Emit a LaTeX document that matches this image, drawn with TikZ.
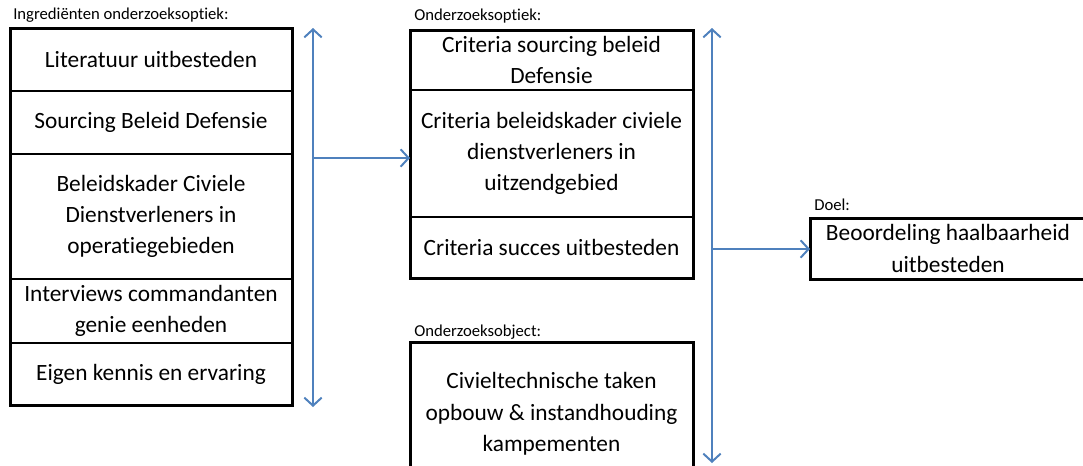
\documentclass[tikz,border=0pt]{standalone}
\usepackage{fontspec}
\setmainfont{Carlito}[Ligatures=NoCommon]
\usepackage{xcolor}
\usetikzlibrary{positioning,arrows.meta}
\definecolor{pijlblauw}{RGB}{79,129,189}
\tikzstyle{rij} = [rectangle, draw, line width=1.5pt, align=center, inner sep=0pt, outer sep=0pt, font=\fontsize{17.5}{23.5}\selectfont]
\tikzstyle{kop} = [anchor=west, inner sep=0pt, font=\fontsize{12.5}{14}\selectfont]
\tikzstyle{kader} = [draw, line width=2.25pt]
\tikzstyle{pijl} = [draw=pijlblauw, line width=1.5pt, -{Straight Barb[length=6pt,width=13pt,line width=1.5pt]}]
\tikzstyle{dubbelpijl} = [draw=pijlblauw, line width=1.5pt, {Straight Barb[length=6pt,width=13pt,line width=1.5pt]}-{Straight Barb[length=6pt,width=13pt,line width=1.5pt]}]

\begin{document}
\begin{tikzpicture}[x=0.75pt,y=-0.75pt]
  \useasboundingbox (0,0) rectangle (1083,465);

  % ingredienten
  \node[kop] (L_ingr) at (13,15) {Ingrediënten onderzoeksoptiek:};
  \node[rij, minimum width=211.5pt, minimum height=47.25pt] (lit) at (151,59.5) {Literatuur uitbesteden};
  \node[rij, minimum width=211.5pt, minimum height=47.25pt] (sbd) [below=0pt of lit] {Sourcing Beleid Defensie};
  \node[rij, minimum width=211.5pt, minimum height=93.75pt] (bcd) [below=0pt of sbd] {Beleidskader Civiele\\Dienstverleners in\\operatiegebieden};
  \node[rij, minimum width=211.5pt, minimum height=48pt] (int) [below=0pt of bcd] {Interviews commandanten\\genie eenheden};
  \node[rij, minimum width=211.5pt, minimum height=46.5pt] (eke) [below=0pt of int] {Eigen kennis en ervaring};
  \draw[kader] (lit.north west) rectangle (eke.south east);

  % onderzoeksoptiek
  \node[kop] (L_opt) at (414,16) {Onderzoeksoptiek:};
  \node[rij, minimum width=212.25pt, minimum height=45pt] (csb) at (551.5,60) {Criteria sourcing beleid\\Defensie};
  \node[rij, minimum width=212.25pt, minimum height=95.25pt] (cbk) [below=0pt of csb] {Criteria beleidskader civiele\\dienstverleners in\\uitzendgebied};
  \node[rij, minimum width=212.25pt, minimum height=45.75pt] (csu) [below=0pt of cbk] {Criteria succes uitbesteden};
  \draw[kader] (csb.north west) rectangle (csu.south east);

  % onderzoeksobject
  \node[kop] (L_obj) at (414,332) {Onderzoeksobject:};
  \node[rij, kader, minimum width=212.25pt, minimum height=108pt] (cit) at (551.5,414) {Civieltechnische taken\\opbouw \& instandhouding\\kampementen};

  % doel
  \node[kop] (L_doel) at (814,205) {Doel:};
  \node[rij, kader, minimum width=207pt, minimum height=45.75pt] (doel) at (948,248.5) {Beoordeling haalbaarheid\\uitbesteden};

  % pijlen
  \coordinate (p1top) at (313,28);
  \coordinate (p1bot) at (313,407);
  \coordinate (p1mid) at (313,158);
  \coordinate (p2top) at (712,28);
  \coordinate (p2bot) at (712,463);
  \coordinate (p2mid) at (712,249);
  \draw[dubbelpijl] (p1top) -- (p1bot);
  \draw[pijl] (p1mid) -- (p1mid -| cbk.west);
  \draw[dubbelpijl] (p2top) -- (p2bot);
  \draw[pijl] (p2mid) -- (p2mid -| doel.west);
\end{tikzpicture}
\end{document}
